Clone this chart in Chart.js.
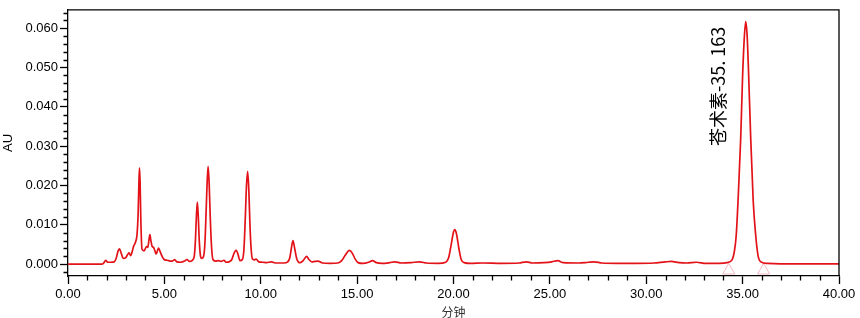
<!DOCTYPE html>
<html><head><meta charset="utf-8">
<script src="https://cdn.jsdelivr.net/npm/chart.js@4.4.1/dist/chart.umd.min.js"></script>
<style>html,body{margin:0;padding:0;background:#fff;overflow:hidden}#wrap{width:860px;height:318px}</style>
</head><body><div id="wrap"><canvas id="c" width="860" height="318"></canvas></div>
<script>
// retention time (min)
const times = [0,1.75,1.85,1.96,2.05,2.2,2.4,2.5,2.6,2.67,2.76,2.86,3.0,3.1,3.17,3.25,3.33,3.4,3.5,3.58,3.64,3.68,3.71,3.74,3.78,3.84,3.95,4.07,4.14,4.2,4.25,4.3,4.36,4.45,4.58,4.65,4.7,4.78,4.9,5.02,5.15,5.3,5.42,5.53,5.65,5.85,6.05,6.17,6.3,6.45,6.55,6.61,6.66,6.71,6.76,6.81,6.87,6.93,7.02,7.1,7.17,7.22,7.27,7.32,7.38,7.44,7.52,7.65,7.8,7.95,8.09,8.2,8.35,8.5,8.6,8.72,8.82,8.92,9.05,9.13,9.2,9.26,9.32,9.38,9.44,9.5,9.57,9.66,9.76,9.9,10.1,10.3,10.55,10.8,11.2,11.4,11.5,11.58,11.67,11.76,11.86,11.96,12.05,12.2,12.38,12.5,12.65,12.8,12.97,13.2,13.6,14.0,14.2,14.4,14.6,14.75,14.9,15.05,15.3,15.6,15.8,16.0,16.3,16.7,16.95,17.3,17.8,18.24,18.6,19.2,19.6,19.75,19.88,20.0,20.07,20.15,20.28,20.4,20.55,20.9,21.5,22.5,23.4,23.78,24.1,24.7,25.1,25.4,25.7,26.5,27.0,27.3,27.7,28.5,29.5,30.4,31.0,31.3,31.7,32.1,32.6,33.1,33.8,34.2,34.45,34.58,34.67,34.78,34.9,35.0,35.08,35.16,35.23,35.3,35.42,35.55,35.67,35.8,35.95,36.3,37.0,40.0];
// absorbance (AU)
const absorb = [0,0,0.0003,0.001,0.0005,0.0005,0.0006,0.0015,0.0034,0.0039,0.0028,0.0015,0.0017,0.0025,0.0029,0.0022,0.0032,0.0045,0.0056,0.0075,0.013,0.021,0.0245,0.021,0.011,0.0038,0.0034,0.0045,0.0043,0.0062,0.0075,0.006,0.0046,0.0042,0.0026,0.0036,0.0041,0.0032,0.0018,0.0011,0.001,0.0008,0.0008,0.0012,0.0006,0.0005,0.0008,0.0012,0.0007,0.001,0.002,0.006,0.012,0.0158,0.012,0.006,0.0022,0.0015,0.0018,0.005,0.014,0.021,0.0249,0.021,0.012,0.005,0.0012,0.0008,0.0009,0.0007,0.001,0.0005,0.0006,0.0012,0.0026,0.0036,0.0025,0.0009,0.0012,0.004,0.012,0.02,0.0236,0.019,0.01,0.004,0.0013,0.0011,0.0013,0.0006,0.0005,0.0004,0.0006,0.0003,0.0003,0.0006,0.0015,0.0038,0.006,0.004,0.0015,0.0005,0.0004,0.0009,0.002,0.0012,0.0006,0.0007,0.0008,0.0003,0.0002,0.0003,0.0009,0.0024,0.0035,0.0028,0.0013,0.0004,0.0002,0.0005,0.0009,0.0004,0.0002,0.0004,0.0006,0.0003,0.0004,0.0006,0.0003,0.0002,0.0005,0.0017,0.005,0.0082,0.0088,0.0078,0.004,0.0012,0.0004,0.0002,0.0003,0.0002,0.0003,0.0006,0.0003,0.0004,0.0006,0.0009,0.0004,0.0003,0.0005,0.0006,0.0003,0.0002,0.0002,0.0003,0.0006,0.0007,0.0004,0.0003,0.0005,0.0002,0.0002,0.0004,0.0011,0.0035,0.0075,0.018,0.032,0.048,0.057,0.0617,0.0585,0.05,0.032,0.016,0.0078,0.0022,0.0006,0.0002,0.0001,0.0001];
const xTickLabels = [0,5,10,15,20,25,30,35,40];
const yTickLabels = [0,0.01,0.02,0.03,0.04,0.05,0.06];
const markerTimes = [34.28,36.09];
const markerLevels = [-0.0016,-0.0016];
const peakName = '苍术素-35. 163';
const peakTime = 35.163;

const numFont = "'Liberation Sans','Arial',sans-serif";
const cjkFont = "'Noto Sans CJK SC','Noto Sans',sans-serif";

const decor = {
  id:'decor',
  afterDraw(chart){
    const {ctx, chartArea:a, scales:{x,y}} = chart;
    ctx.save();
    ctx.strokeStyle = '#000'; ctx.lineWidth = 1.3;
    ctx.beginPath();
    for(let t=1;t<40;t++){ if(t%5===0) continue; const px=Math.round(x.getPixelForValue(t))+0.5; ctx.moveTo(px,a.bottom); ctx.lineTo(px,a.bottom+4.5); }
    for(let k=-1;k<=32;k++){ if(k%5===0) continue; const py=Math.round(y.getPixelForValue(k*0.002))+0.5; if(py<a.top) continue; ctx.moveTo(a.left,py); ctx.lineTo(a.left-4.5,py); }
    ctx.stroke();
    ctx.beginPath();
    ctx.moveTo(a.left,a.top); ctx.lineTo(a.right,a.top); ctx.lineTo(a.right,a.bottom);
    ctx.stroke();
    // peak annotation
    ctx.translate(x.getPixelForValue(peakTime)-28, 146);
    ctx.rotate(-Math.PI/2);
    ctx.fillStyle = '#000';
    ctx.font = "18px " + cjkFont;
    ctx.textAlign = 'left'; ctx.textBaseline = 'middle';
    ctx.fillText(peakName, 0, 0);
    ctx.restore();
  }
};

new Chart(document.getElementById('c'), {
  type:'line',
  data:{
    datasets:[
      {data: times.map((t,i)=>({x:t,y:absorb[i]})), borderColor:'rgb(226,18,24)', borderWidth:1.7, pointRadius:0, fill:false, cubicInterpolationMode:'monotone'},
      {data: markerTimes.map((t,i)=>({x:t,y:markerLevels[i]})), showLine:false, pointStyle:'triangle', pointRadius:7, pointBorderColor:'rgb(242,185,195)', pointBackgroundColor:'rgba(0,0,0,0)', pointBorderWidth:1}
    ]
  },
  options:{
    responsive:false, animation:false, devicePixelRatio:1,
    layout:{padding:{top:1,right:21,left:0,bottom:0}},
    plugins:{legend:{display:false}, tooltip:{enabled:false}},
    scales:{
      x:{type:'linear', min:0, max:40,
        afterBuildTicks:s=>{s.ticks = xTickLabels.map(v=>({value:v}));},
        afterFit:s=>{s.height=42;},
        ticks:{callback:v=>Number(v).toFixed(2), font:{family:numFont,size:13}, color:'#000', padding:3, maxRotation:0, autoSkip:false},
        grid:{display:true, drawOnChartArea:false, drawTicks:true, tickLength:8, tickColor:'#000', tickWidth:1.3},
        border:{display:true, color:'#000', width:1.3},
        title:{display:true, text:'分钟', font:{family:cjkFont,size:12,lineHeight:1}, color:'#333', padding:0}
      },
      y:{type:'linear', min:-0.003, max:0.0647,
        afterBuildTicks:s=>{s.ticks = yTickLabels.map(v=>({value:v}));},
        afterFit:s=>{s.width=68;},
        ticks:{callback:v=>Number(v).toFixed(3), font:{family:numFont,size:13}, color:'#000', padding:2, autoSkip:false},
        grid:{display:true, drawOnChartArea:false, drawTicks:true, tickLength:8, tickColor:'#000', tickWidth:1.3},
        border:{display:true, color:'#000', width:1.3},
        title:{display:true, text:'AU', font:{family:numFont,size:13,lineHeight:1.2}, color:'#000', padding:{top:1,bottom:0}}
      }
    }
  },
  plugins:[decor]
});
</script></body></html>
